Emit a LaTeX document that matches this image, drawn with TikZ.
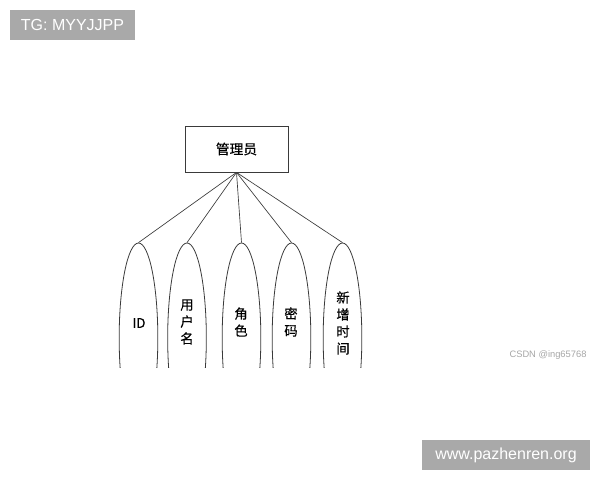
\documentclass[tikz,border=0pt]{standalone}
\usepackage{fontspec}
\setmainfont{Liberation Sans}
\newfontfamily\cjk[FakeBold=0.4]{Noto Sans CJK SC}
\usetikzlibrary{shapes.geometric}
\definecolor{wmgray}{HTML}{A9A9A9}
\definecolor{linegray}{HTML}{3A3A3A}

\begin{document}
\begin{tikzpicture}[x=0.75pt,y=-0.75pt,
         entity/.style = {draw=linegray,line width=0.6pt,minimum width=77.25pt,
            minimum height=34.5pt,inner sep=0pt,font=\cjk\fontsize{10.3}{12}\selectfont},
         attr/.style = {draw=linegray,line width=0.6pt,ellipse,inner sep=0pt,
            minimum width=29pt,minimum height=142.5pt},
         attrtext/.style = {align=center,inner sep=0pt,
            font=\cjk\fontsize{10}{12.75}\selectfont},
         link/.style = {draw=linegray,line width=0.5pt},
         wmbox/.style = {fill=wmgray,text=white,inner sep=0pt,
            minimum height=22.5pt,font=\fontsize{12}{14}\selectfont}
]
      \useasboundingbox (0,0) rectangle (600,480);

      \node[wmbox,minimum width=93.75pt] (tg) at (72.5,25) {TG: MYYJJPP};
      \node[wmbox,minimum width=126pt] (site) at (506,455) {www.pazhenren.org};
      \node[text=gray!70,font=\fontsize{7}{8}\selectfont,inner sep=0pt] (csdn) at (548,355) {CSDN @ing65768};

      \node[entity] (admin) at (236.5,149) {管理员};

      \begin{scope}
         \clip (0,0) rectangle (600,367);
         \node[attr] (id)    at (138.5,338) {};
         \node[attr] (user)  at (187,338) {};
         \node[attr] (role)  at (241.5,338) {};
         \node[attr] (pwd)   at (291.5,338) {};
         \node[attr] (ctime) at (342.5,338) {};
      \end{scope}

      \node[attrtext] (idtext)    at (139,323) {ID};
      \node[attrtext] (usertext)  at (187,322) {用\\户\\名};
      \node[attrtext] (roletext)  at (241,322) {角\\色};
      \node[attrtext] (pwdtext)   at (291,322) {密\\码};
      \node[attrtext] (ctimetext) at (343,323) {新\\增\\时\\间};

      \foreach \a in {id,user,role,pwd,ctime}
         \draw[link] (admin.south) -- (\a.north);
\end{tikzpicture}
\end{document}
